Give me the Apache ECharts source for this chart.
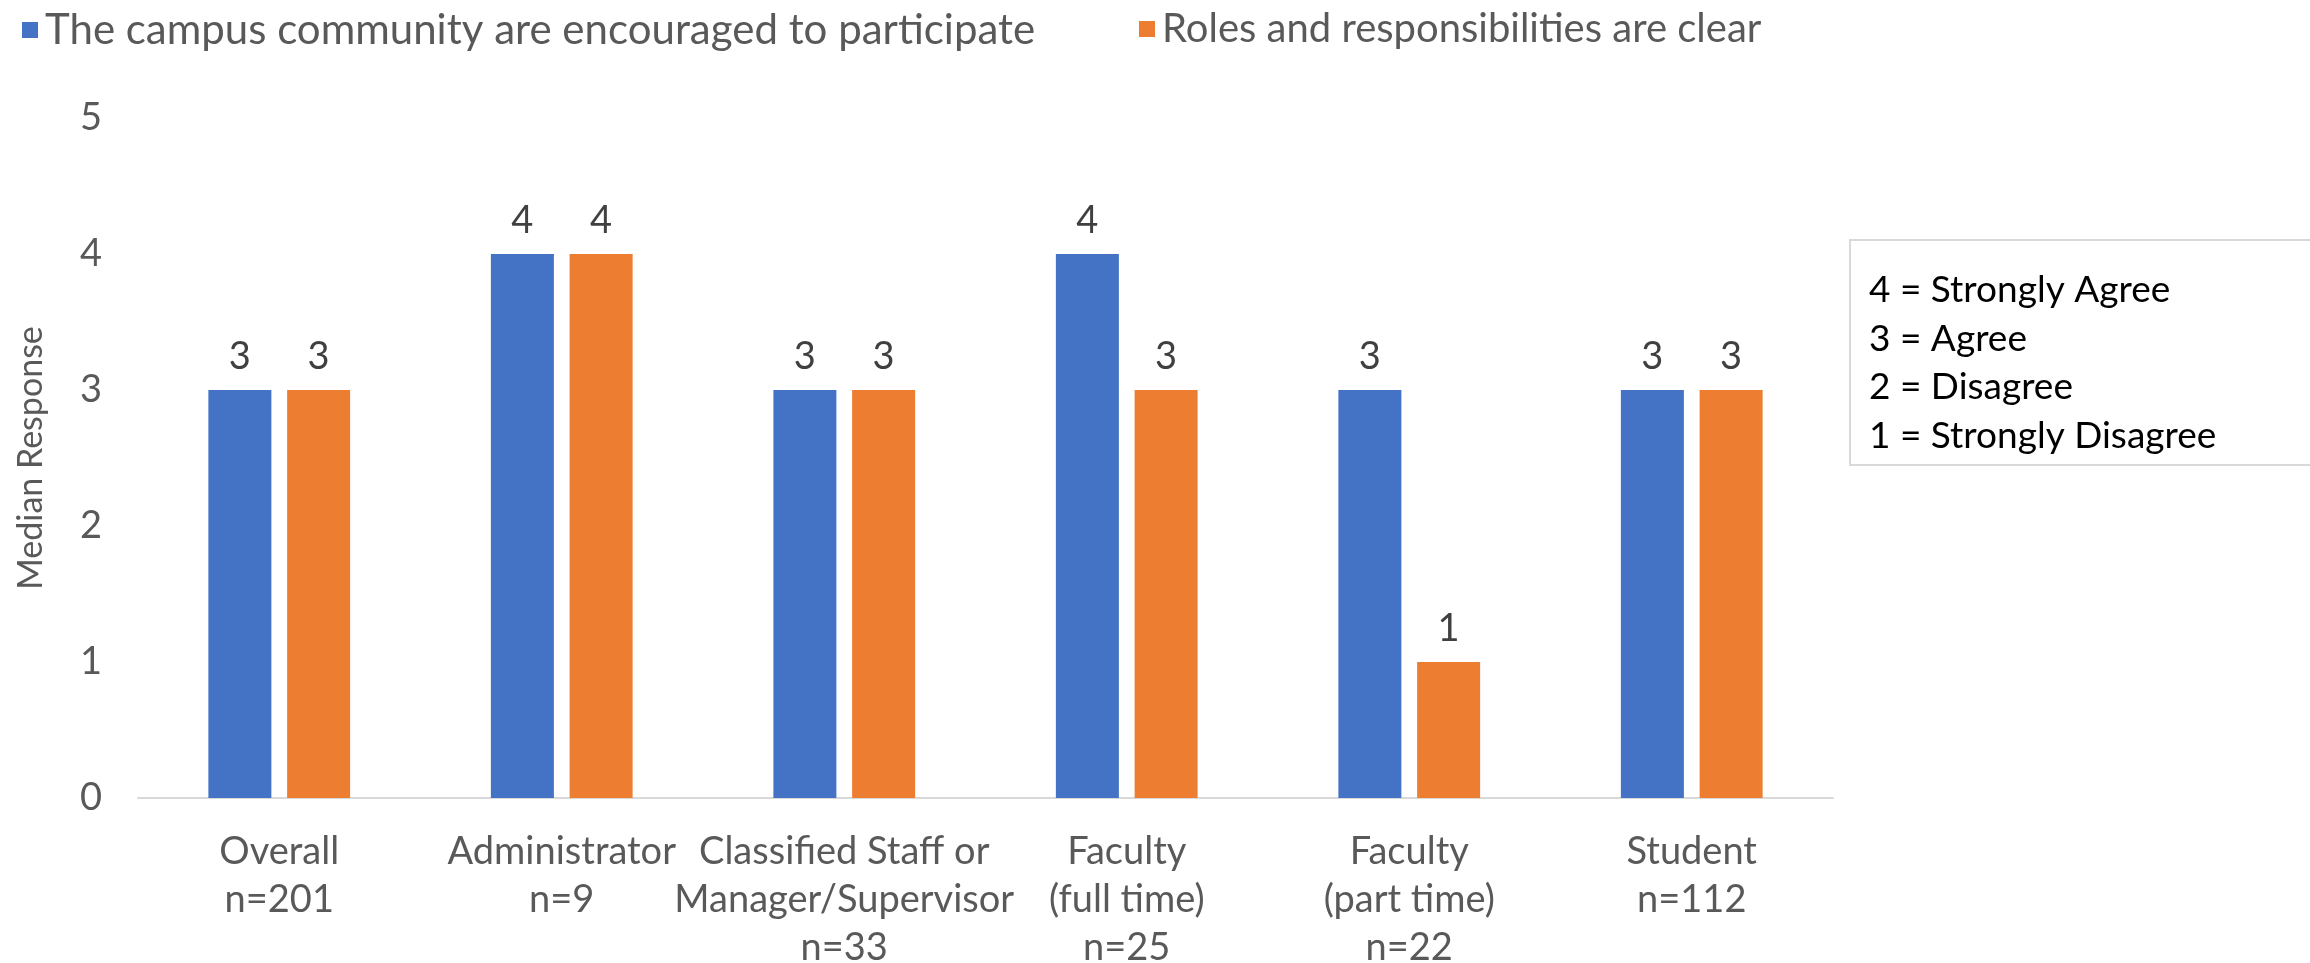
<!DOCTYPE html>
<html>
<head>
<meta charset="utf-8">
<script src="https://cdn.jsdelivr.net/npm/echarts@6/dist/echarts.min.js"></script>
<style>
  html, body { margin: 0; padding: 0; background: #fff; }
  #chart { width: 2310px; height: 963px; }
</style>
</head>
<body>
<div id="chart"></div>
<script>
// categories and values
var categories = [
  'Overall\nn=201',
  'Administrator\nn=9',
  'Classified Staff or\nManager/Supervisor\nn=33',
  'Faculty\n(full time)\nn=25',
  'Faculty\n(part time)\nn=22',
  'Student\nn=112'
]
var seriesNames = [
  'The campus community are encouraged to participate',
  'Roles and responsibilities are clear'
]
var encouraged = [3, 4, 3, 4, 3, 3]
var rolesClear = [3, 4, 3, 3, 1, 3]
var scaleNotes = [
  '4 = Strongly Agree',
  '3 = Agree',
  '2 = Disagree',
  '1 = Strongly Disagree'
]

var font = 'Lato, "Open Sans", sans-serif'
var chartDom = document.getElementById('chart')
var myChart = echarts.init(chartDom)

// one legend per series so each sits where the original put it
function legendAt(name, left, size) {
  return {
    data: [name],
    left: left,
    top: 4,
    itemWidth: 16,
    itemHeight: 16,
    icon: 'rect',
    textStyle: { fontSize: size, color: '#595959', fontFamily: font, padding: [0, 0, 0, 2] }
  }
}

var option = {
  animation: false,
  textStyle: { fontFamily: font },
  color: ['#4472C4', '#ED7D31'],
  legend: [
    legendAt(seriesNames[0], 17, 42),
    legendAt(seriesNames[1], 1134, 40)
  ],
  grid: {
    left: 138,
    right: 477,
    top: 118,
    bottom: 165,
    containLabel: false,
    outerBoundsMode: 'none'
  },
  xAxis: {
    type: 'category',
    data: categories,
    axisLine: { lineStyle: { color: '#d9d9d9', width: 2 } },
    axisTick: { show: false },
    axisLabel: {
      color: '#595959',
      fontSize: 38,
      lineHeight: 48,
      margin: 30,
      interval: 0,
      fontFamily: font
    }
  },
  yAxis: {
    type: 'value',
    min: 0,
    max: 5,
    interval: 1,
    name: 'Median Response',
    nameLocation: 'middle',
    nameGap: 90,
    nameTextStyle: { color: '#595959', fontSize: 34, fontFamily: font },
    splitLine: { show: false },
    axisLine: { show: false },
    axisTick: { show: false },
    axisLabel: { color: '#595959', fontSize: 38, margin: 36, fontFamily: font }
  },
  series: [
    {
      name: seriesNames[0],
      type: 'bar',
      data: encouraged,
      barWidth: 63,
      barGap: '25%',
      label: { show: true, position: 'top', distance: 14, color: '#404040', fontSize: 38, fontFamily: font }
    },
    {
      name: seriesNames[1],
      type: 'bar',
      data: rolesClear,
      barWidth: 63,
      label: { show: true, position: 'top', distance: 14, color: '#404040', fontSize: 38, fontFamily: font }
    }
  ],
  graphic: [
    {
      type: 'rect',
      left: 1849,
      top: 239,
      shape: { width: 470, height: 225 },
      style: { fill: '#fff', stroke: '#d9d9d9', lineWidth: 2 }
    },
    {
      type: 'text',
      left: 1869,
      top: 266,
      style: {
        text: scaleNotes.join('\n'),
        fill: '#000',
        fontSize: 37,
        lineHeight: 48.5,
        fontFamily: font
      }
    }
  ]
}

myChart.setOption(option)
</script>
</body>
</html>
